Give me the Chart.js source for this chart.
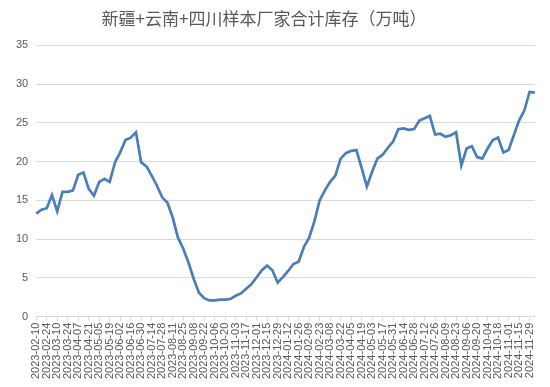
<!DOCTYPE html>
<html>
<head>
<meta charset="utf-8">
<script src="https://cdn.jsdelivr.net/npm/chart.js@4/dist/chart.umd.min.js"></script>
<style>
  html, body { margin: 0; padding: 0; background: #ffffff; }
  #wrap { width: 550px; height: 387px; position: relative; }
</style>
</head>
<body>
<div id="wrap"><canvas id="c"></canvas></div>
<script>
const chartTitle = '新疆+云南+四川样本厂家合计库存（万吨）';

const dates = [
  '2023-02-10','2023-02-17','2023-02-24','2023-03-03','2023-03-10','2023-03-17','2023-03-24','2023-03-31',
  '2023-04-07','2023-04-14','2023-04-21','2023-04-28','2023-05-05','2023-05-12','2023-05-19','2023-05-26',
  '2023-06-02','2023-06-09','2023-06-16','2023-06-23','2023-06-30','2023-07-07','2023-07-14','2023-07-21',
  '2023-07-28','2023-08-04','2023-08-11','2023-08-18','2023-08-25','2023-09-01','2023-09-08','2023-09-15',
  '2023-09-22','2023-09-29','2023-10-06','2023-10-13','2023-10-20','2023-10-27','2023-11-03','2023-11-10',
  '2023-11-17','2023-11-24','2023-12-01','2023-12-08','2023-12-15','2023-12-22','2023-12-29','2024-01-05',
  '2024-01-12','2024-01-19','2024-01-26','2024-02-02','2024-02-09','2024-02-16','2024-02-23','2024-03-01',
  '2024-03-08','2024-03-15','2024-03-22','2024-03-29','2024-04-05','2024-04-12','2024-04-19','2024-04-26',
  '2024-05-03','2024-05-10','2024-05-17','2024-05-24','2024-05-31','2024-06-07','2024-06-14','2024-06-21',
  '2024-06-28','2024-07-05','2024-07-12','2024-07-19','2024-07-26','2024-08-02','2024-08-09','2024-08-16',
  '2024-08-23','2024-08-30','2024-09-06','2024-09-13','2024-09-20','2024-09-27','2024-10-04','2024-10-11',
  '2024-10-18','2024-10-25','2024-11-01','2024-11-08','2024-11-15','2024-11-22','2024-11-29','2024-12-06'
];

const inventory = [
  13.3, 13.8, 14.0, 15.7, 13.6, 16.1, 16.1, 16.3, 18.3, 18.6,
  16.5, 15.6, 17.4, 17.8, 17.4, 19.9, 21.2, 22.8, 23.1, 23.8,
  19.9, 19.4, 18.2, 16.9, 15.4, 14.7, 12.8, 10.2, 8.8, 7.0,
  4.9, 3.1, 2.4, 2.1, 2.1, 2.2, 2.2, 2.3, 2.7, 3.0,
  3.6, 4.2, 5.1, 6.0, 6.6, 6.0, 4.4, 5.1, 5.9, 6.8,
  7.1, 9.0, 10.2, 12.3, 15.0, 16.3, 17.4, 18.2, 20.4, 21.1,
  21.4, 21.5, 19.2, 16.8, 18.7, 20.4, 20.9, 21.8, 22.6, 24.2,
  24.3, 24.1, 24.2, 25.3, 25.6, 25.9, 23.5, 23.6, 23.2, 23.4,
  23.8, 19.5, 21.7, 22.0, 20.6, 20.4, 21.7, 22.8, 23.1, 21.2,
  21.5, 23.4, 25.3, 26.6, 29.0, 28.9
];

const yMin = 0, yMax = 35, yStep = 5;
const labelEvery = 2;

// shift the title box slightly left, as in the reference
const titleShift = {
  id: 'titleShift',
  afterLayout(chart) {
    const t = chart.titleBlock;
    if (t) { t.left -= 9; t.right -= 9; }
  }
};

new Chart(document.getElementById('c'), {
  type: 'line',
  data: {
    labels: dates,
    datasets: [{
      label: chartTitle,
      data: inventory,
      borderColor: '#4a7ebb',
      borderWidth: 2.7,
      pointRadius: 0,
      pointHoverRadius: 0,
      tension: 0,
      fill: false
    }]
  },
  plugins: [titleShift],
  options: {
    responsive: true,
    maintainAspectRatio: false,
    animation: false,
    layout: { padding: { top: 8, right: 12, left: 8, bottom: 6 } },
    plugins: {
      legend: { display: false },
      tooltip: { enabled: false },
      title: {
        display: true,
        text: chartTitle,
        color: '#595959',
        font: { family: "'Noto Sans CJK SC', sans-serif", size: 17, weight: 'normal' },
        padding: { top: 0, bottom: 17 }
      }
    },
    scales: {
      x: {
        offset: false,
        grid: {
          drawOnChartArea: false,
          drawTicks: true,
          tickLength: 4,
          color: (ctx) => (ctx.index % labelEvery === 0 ? '#d9d9d9' : 'rgba(0,0,0,0)')
        },
        border: { display: true, color: '#d9d9d9', width: 1 },
        ticks: {
          autoSkip: false,
          maxRotation: 90,
          minRotation: 90,
          color: '#595959',
          padding: 2,
          font: { family: "'Liberation Sans', Arial, sans-serif", size: 11 },
          callback: function(value, index) {
            return index % labelEvery === 0 ? this.getLabelForValue(value) : '';
          }
        }
      },
      y: {
        min: yMin,
        max: yMax,
        grid: { color: '#d9d9d9', drawTicks: false, lineWidth: 1 },
        border: { display: false },
        ticks: {
          stepSize: yStep,
          color: '#595959',
          padding: 8,
          font: { family: "'Liberation Sans', Arial, sans-serif", size: 11 }
        }
      }
    }
  }
});
</script>
</body>
</html>
